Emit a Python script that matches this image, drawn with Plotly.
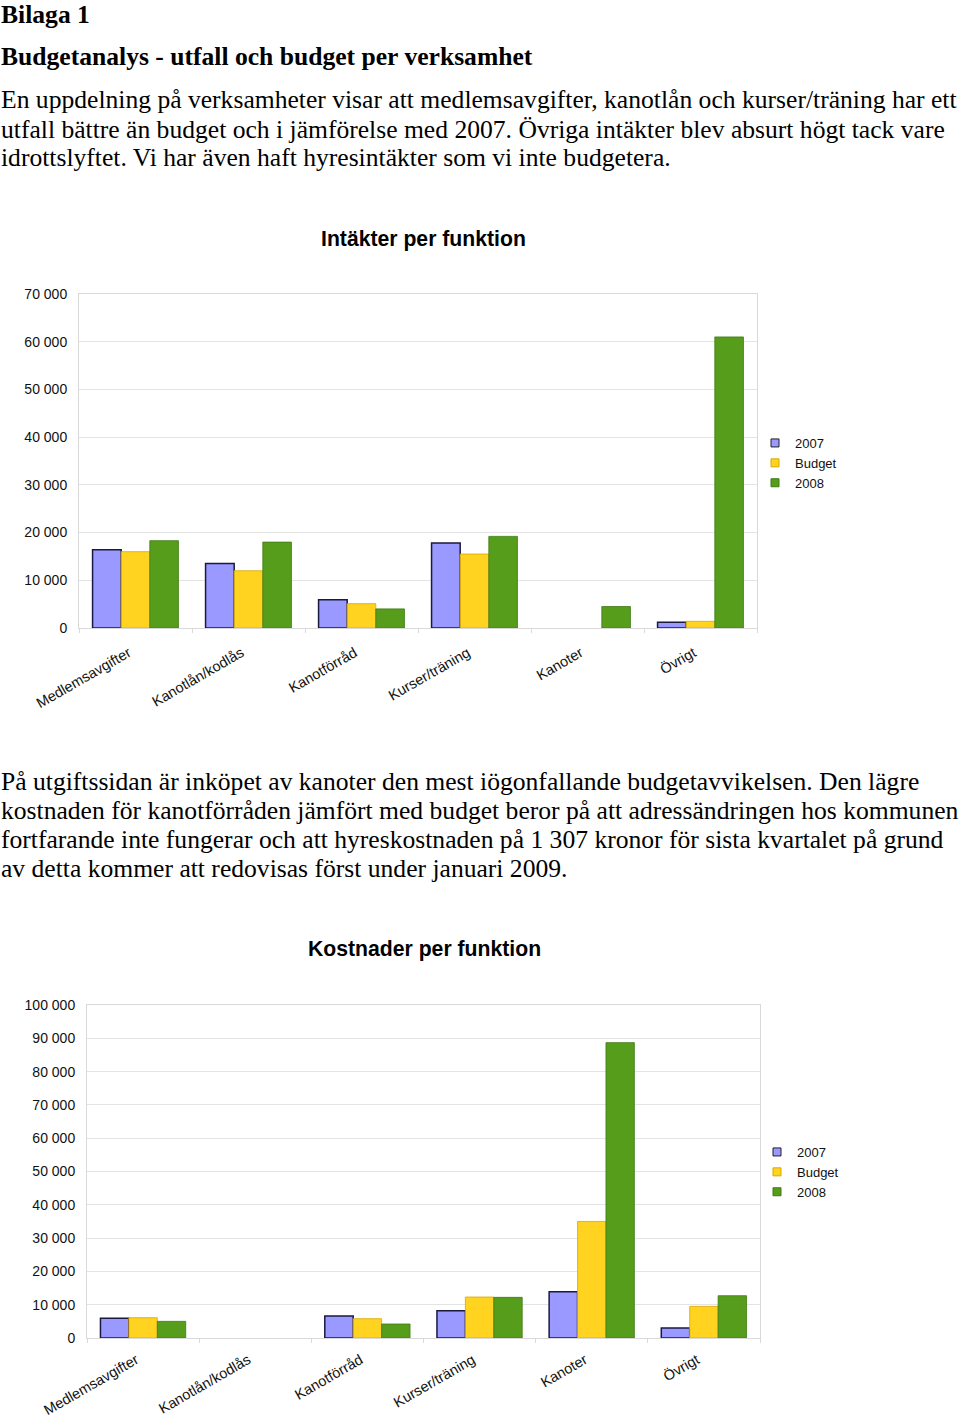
import plotly.graph_objects as go

categories = ["Medlemsavgifter", "Kanotlån/kodlås", "Kanotförråd", "Kurser/träning", "Kanoter", "Övrigt"]
series_names = ["2007", "Budget", "2008"]

income_2007 = [16400, 13500, 5900, 17800, None, 1200]
income_budget = [16000, 12000, 5100, 15500, None, 1400]
income_2008 = [18300, 18000, 4000, 19200, 4500, 61000]

cost_2007 = [5900, None, 6600, 8200, 13900, 3000]
cost_budget = [6100, None, 5800, 12300, 35000, 9500]
cost_2008 = [5000, None, 4200, 12200, 88700, 12700]

income_ticks = [0, 10000, 20000, 30000, 40000, 50000, 60000, 70000]
cost_ticks = [0, 10000, 20000, 30000, 40000, 50000, 60000, 70000, 80000, 90000, 100000]

fill_colors = ["#9999FF", "#FFD320", "#579D1C"]
line_colors = ["#1a1a40", "#d8a800", "#3f7a12"]
line_widths = [1.5, 0.8, 0.8]

W, H = 960, 1419


def py(px):
    return 1 - px / H


fig = go.Figure()

sans = "Liberation Sans, Arial, sans-serif"

for i, (name, vals) in enumerate(zip(series_names, [income_2007, income_budget, income_2008])):
    fig.add_trace(go.Bar(
        x=categories, y=vals, name=name, xaxis="x", yaxis="y", showlegend=False,
        marker=dict(color=fill_colors[i], line=dict(color=line_colors[i], width=line_widths[i])),
    ))
for i, (name, vals) in enumerate(zip(series_names, [cost_2007, cost_budget, cost_2008])):
    fig.add_trace(go.Bar(
        x=categories, y=vals, name=name, xaxis="x2", yaxis="y2", showlegend=False,
        marker=dict(color=fill_colors[i], line=dict(color=line_colors[i], width=line_widths[i])),
    ))

# legend entries (small square keys like the original)
for lg, xa, ya in [("legend", "x", "y"), ("legend2", "x2", "y2")]:
    for i, name in enumerate(series_names):
        fig.add_trace(go.Scatter(
            x=[None], y=[None], name=name, mode="markers", xaxis=xa, yaxis=ya, legend=lg,
            marker=dict(symbol="square", size=8, color=fill_colors[i],
                        line=dict(color="#222" if i == 0 else line_colors[i], width=1)),
        ))

axis_font = dict(family=sans, size=14.5, color="#111")
grid = "#e4e4e4"

xcommon = dict(type="category", tickangle=-30, tickfont=axis_font, showline=True, linecolor="#d9d9d9",
               mirror=True, ticks="outside", tickson="boundaries", ticklen=4, tickcolor="#d9d9d9",
               showgrid=False, automargin=False, ticklabelshift=-7)
ycommon = dict(tickfont=dict(family=sans, size=14, color="#111"), showline=True, linecolor="#d9d9d9",
               mirror=True, gridcolor=grid, zeroline=False, ticks="", tickformat=",d", automargin=False,
               ticklabelstandoff=8)

legend_common = dict(xanchor="left", yanchor="top", font=dict(family=sans, size=13, color="#111"),
                     itemwidth=30, tracegroupgap=0, bgcolor="rgba(0,0,0,0)", borderwidth=0)

fig.update_layout(
    width=W, height=H,
    margin=dict(l=0, r=0, t=0, b=0, pad=0, autoexpand=False),
    paper_bgcolor="white", plot_bgcolor="white",
    separators=", ",
    barmode="group", bargap=0.24, bargroupgap=0,
    xaxis=dict(domain=[79 / W, 757 / W], anchor="y", ticklabelstandoff=10, **xcommon),
    yaxis=dict(domain=[py(628), py(294)], anchor="x", range=[0, 70000], tickvals=income_ticks, **ycommon),
    xaxis2=dict(domain=[87 / W, 760 / W], anchor="y2", ticklabelstandoff=7, **xcommon),
    yaxis2=dict(domain=[py(1338), py(1005)], anchor="x2", range=[0, 100000], tickvals=cost_ticks, **ycommon),
    legend=dict(x=755 / W, y=py(428), **legend_common),
    legend2=dict(x=757 / W, y=py(1137), **legend_common),
    showlegend=True,
)

serif = "Liberation Serif, Times New Roman, serif"
text_items = [
    ("<b>Bilaga 1</b>", 14),
    ("<b>Budgetanalys - utfall och budget per verksamhet</b>", 56),
    ("En uppdelning på verksamheter visar att medlemsavgifter, kanotlån och kurser/träning har ett", 100),
    ("utfall bättre än budget och i jämförelse med 2007. Övriga intäkter blev absurt högt tack vare", 129),
    ("idrottslyftet. Vi har även haft hyresintäkter som vi inte budgetera.", 158),
    ("På utgiftssidan är inköpet av kanoter den mest iögonfallande budgetavvikelsen. Den lägre", 781),
    ("kostnaden för kanotförråden jämfört med budget beror på att adressändringen hos kommunen", 810),
    ("fortfarande inte fungerar och att hyreskostnaden på 1 307 kronor för sista kvartalet på grund", 839),
    ("av detta kommer att redovisas först under januari 2009.", 868),
]
for txt, ypx in text_items:
    fig.add_annotation(text=txt, x=0, y=py(ypx), xref="paper", yref="paper", xanchor="left", yanchor="middle",
                       showarrow=False, font=dict(family=serif, size=25.6, color="#000"), borderpad=0)

for txt, xpx, ypx in [("<b>Intäkter per funktion</b>", 423, 239), ("<b>Kostnader per funktion</b>", 424, 949)]:
    fig.add_annotation(text=txt, x=xpx / W, y=py(ypx), xref="paper", yref="paper", xanchor="center",
                       yanchor="middle", showarrow=False,
                       font=dict(family=sans, size=21.2, color="#000"))

fig.write_html("out.html", config={"displayModeBar": False},
               post_script="document.body.style.margin='0';document.body.style.overflow='hidden';")
